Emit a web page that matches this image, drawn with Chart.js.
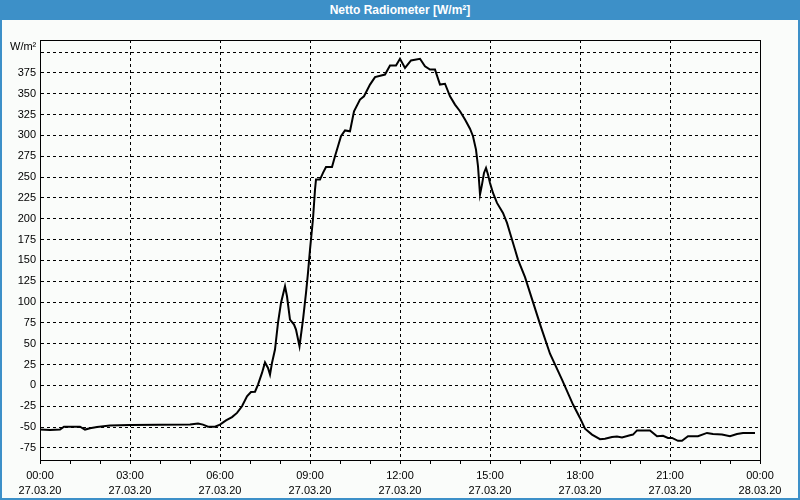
<!DOCTYPE html>
<html>
<head>
<meta charset="utf-8">
<script src="https://cdn.jsdelivr.net/npm/chart.js@4/dist/chart.umd.min.js"></script>
<style>
  html, body { margin: 0; padding: 0; background: #fafcfa; }
  #wrap { position: relative; width: 800px; height: 500px; overflow: hidden; background: #fafcfa; }
  #chart { position: absolute; left: 0; top: 0; }
  #titlebar { position: absolute; left: 0; top: 0; width: 800px; height: 20px; background: #3d90c8;
    color: #fff; font: bold 12px "Liberation Sans", Arial, sans-serif; line-height: 20px; text-align: center; }
  #frame { position: absolute; left: 0; top: 0; width: 800px; height: 500px; box-sizing: border-box;
    border: 2px solid #3d90c8; border-top: none; pointer-events: none; }
  #unit { position: absolute; left: 10px; top: 40px; font: 11px "Liberation Sans", Arial, sans-serif; color: #000; }
</style>
</head>
<body>
<div id="wrap">
  <canvas id="chart" width="800" height="500"></canvas>
  <div id="titlebar">Netto Radiometer [W/m²]</div>
  <div id="unit">W/m²</div>
  <div id="frame"></div>
</div>
<script>
// Time of day in hours (27.03.20 00:00 = 0)
const hours = [
  0, 0.333, 0.667, 0.8, 1.333, 1.5, 1.667, 1.9, 2.333, 3, 4, 5, 5.267, 5.433, 5.6, 5.833,
  6, 6.2, 6.4, 6.567, 6.733, 6.9, 7.033, 7.167, 7.267, 7.4, 7.5, 7.6, 7.667, 7.733, 7.833,
  7.933, 8.033, 8.167, 8.233, 8.333, 8.467, 8.533, 8.65, 8.767, 8.867, 8.933, 9, 9.1, 9.167,
  9.2, 9.333, 9.433, 9.533, 9.733, 9.833, 9.933, 10.033, 10.167, 10.333, 10.467, 10.667,
  10.8, 11, 11.167, 11.5, 11.667, 11.867, 12, 12.167, 12.367, 12.667, 12.833, 13, 13.167,
  13.333, 13.5, 13.667, 13.833, 14, 14.167, 14.333, 14.433, 14.533, 14.6, 14.667, 14.733,
  14.8, 14.867, 14.933, 15, 15.1, 15.233, 15.433, 15.567, 15.667, 15.833, 15.933, 16.167,
  16.433, 16.7, 17, 17.4, 17.767, 18, 18.167, 18.4, 18.667, 18.833, 19.067, 19.233, 19.4,
  19.667, 19.767, 19.9, 20.333, 20.567, 20.767, 20.933, 21.067, 21.267, 21.4, 21.6, 21.933,
  22.233, 22.433, 22.733, 23, 23.233, 23.433, 23.833
];
// Net radiation, W/m²
const netRadiation = [
  -53, -53.5, -53, -49.5, -49.5, -53, -51.5, -50, -48, -47.5, -47.3, -47, -45.7, -47, -49.5, -49.5,
  -47, -42, -38, -33, -25, -13, -8, -7.6, 1, 15, 27.6, 21, 13, 27, 43,
  75, 99, 119, 107, 79, 73, 67, 47, 79, 111, 135, 163, 200, 235,
  247, 247, 255, 262, 262, 275, 287, 299, 306, 305, 329, 343,
  347, 361, 370, 373, 384, 384, 392, 381, 390, 392, 383, 379, 379,
  361, 362, 347, 337, 329, 319, 308, 299, 283, 263, 229, 241,
  255, 261, 253, 243, 231, 219, 207, 195, 183, 163, 151, 130,
  100, 70, 38, 7, -23, -39, -52, -59, -64.5, -64, -62, -61.3, -62.5,
  -59.7, -59, -54, -54, -61, -60.5, -63, -63, -66.5, -66.5, -61, -61,
  -57, -58.4, -59, -61, -58.4, -57, -57
];
// X tick labels (every 3 hours)
const tickTimes = ['00:00', '03:00', '06:00', '09:00', '12:00', '15:00', '18:00', '21:00', '00:00'];
const tickDates = ['27.03.20', '27.03.20', '27.03.20', '27.03.20', '27.03.20', '27.03.20', '27.03.20', '27.03.20', '28.03.20'];

const points = hours.map((h, i) => ({ x: h, y: netRadiation[i] }));

const frameBox = {
  id: 'frameBox',
  afterDatasetsDraw(chart) {
    const a = chart.chartArea, c = chart.ctx;
    c.save();
    c.strokeStyle = '#000';
    c.lineWidth = 1;
    c.strokeRect(Math.round(a.left) + 0.5, Math.round(a.top) + 0.5, Math.round(a.right - a.left), Math.round(a.bottom - a.top));
    c.restore();
  }
};

const font = { family: '"Liberation Sans", Arial, sans-serif', size: 11 };

new Chart(document.getElementById('chart'), {
  type: 'line',
  data: {
    datasets: [{
      data: points,
      borderColor: '#000',
      borderWidth: 2,
      pointRadius: 0,
      tension: 0,
      fill: false
    }]
  },
  options: {
    responsive: false,
    animation: false,
    events: [],
    layout: { padding: { left: 0, right: 40, top: 40, bottom: 0 } },
    plugins: { legend: { display: false }, tooltip: { enabled: false }, title: { display: false } },
    scales: {
      x: {
        type: 'linear',
        min: 0,
        max: 24,
        afterFit(s) { s.height = 40; },
        border: { display: true, color: '#000', width: 1, dash: [3, 3] },
        grid: {
          color: (ctx) => (ctx.tick && ctx.tick.value % 3 === 0) ? '#000' : 'rgba(0,0,0,0)',
          tickColor: '#000',
          tickLength: 4,
          lineWidth: 1,
          tickBorderDash: []
        },
        ticks: {
          stepSize: 1,
          autoSkip: false,
          maxRotation: 0,
          minRotation: 0,
          padding: 4,
          color: '#000',
          font: { family: font.family, size: 11, lineHeight: '15px' },
          callback: (v) => {
            if (v % 3 !== 0) return '';
            const i = v / 3;
            return [tickTimes[i], tickDates[i]];
          }
        }
      },
      y: {
        min: -89.5,
        max: 414.5,
        afterFit(s) { s.width = 40; },
        border: { display: true, color: '#000', width: 1, dash: [3, 3] },
        grid: { color: '#000', lineWidth: 1, drawTicks: false },
        ticks: {
          stepSize: 25,
          includeBounds: false,
          padding: 4,
          color: '#000',
          font: font,
          callback: (v) => v === 400 ? '' : String(v)
        }
      }
    }
  },
  plugins: [frameBox]
});
</script>
</body>
</html>
